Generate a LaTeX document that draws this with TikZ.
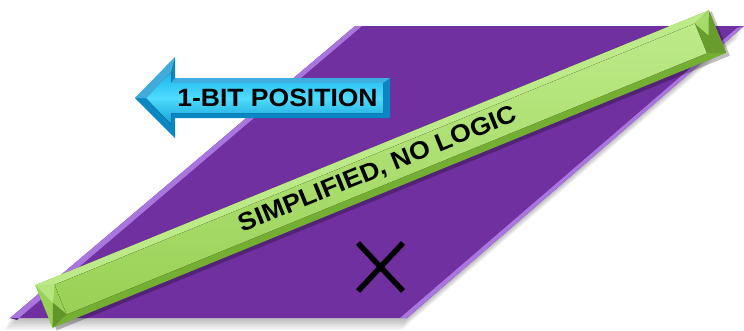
\documentclass[tikz,border=0pt]{standalone}
\usepackage{fontspec}
\setmainfont{Liberation Sans}
\definecolor{purp}{HTML}{7030A0}
\definecolor{purpl}{HTML}{A876DE}
\definecolor{grn}{HTML}{98D155}
\definecolor{grnl}{HTML}{BDEA88}
\definecolor{grnd}{HTML}{74AE33}
\definecolor{blu}{HTML}{1AB4EE}
\definecolor{blul}{HTML}{4EDCFF}
\definecolor{blud}{HTML}{0A86C2}
\tikzset{
  lbl/.style={font=\bfseries\fontsize{25}{25}\selectfont, text=black, inner sep=0pt},
  cross/.style={line width=5.5pt, black}
}
\begin{document}
\begin{tikzpicture}[x=1pt,y=-1pt]
\useasboundingbox (0,0) rectangle (744,330);
% shadow of the parallelogram
\foreach \i in {1,...,8}{
  \fill[black, opacity=0.035] ([shift={(-\i*0.7,\i*1.5)}]10,318) -- ([shift={(-\i*0.7,\i*1.5)}]407,318) -- ([shift={(-\i*0.7,\i*1.5)}]744,26) -- ([shift={(-\i*0.7,\i*1.5)}]355,26) -- cycle;
}
% parallelogram
\fill[purp] (10,318) -- (407,318) -- (744,26) -- (355,26) -- cycle;
% bevel strips
\fill[purpl] (10,318) -- (355,26) -- (362,26) -- (19,318) -- cycle;
\fill[purpl] (407,318) -- (744,26) -- (737,28) -- (400,318) -- cycle;
\fill[purp!85!black] (10,318) -- (19,318) -- (17,320) -- cycle;
% blue arrow
\fill[blud] (135,98) -- (175,57) -- (175,78) -- (390,78) -- (390,118) -- (175,118) -- (175,138) -- cycle;
\fill[top color=blu, bottom color=blu!90!black, middle color=blul] (146,98) -- (171,72) -- (171,83) -- (383,83) -- (383,113) -- (171,113) -- (171,124) -- cycle;
\fill[blu!70!white, opacity=0.6] (175,78) -- (390,78) -- (383,83) -- (171,83) -- cycle;
\fill[blu!60!white, opacity=0.5] (135,98) -- (175,57) -- (171,72) -- (146,98) -- cycle;
\node[lbl, xscale=1.06] (pos) at (277.5,98) {1-BIT POSITION};
% cross
\draw[cross] (358,243) -- (403,291);
\draw[cross] (403,243) -- (358,291);
% green bar
\begin{scope}[shift={(380.75,169)}, rotate=22.2]
  \fill[black, opacity=0.25] (-361,-21) rectangle (366,27);
  \fill[grnd] (-363.75,-23) rectangle (363.75,23);
  \fill[grnl] (-363.75,-23) -- (363.75,-23) -- (345.75,-16) -- (-345.75,-16) -- cycle;
  \fill[grn] (-363.75,-23) -- (-345.75,-16) -- (-345.75,16) -- (-363.75,23) -- cycle;
  \fill[grnl!80!grn] (-363.75,-23) -- (-345.75,-16) -- (-354,0) -- cycle;
  \fill[grnd!85!black] (-363.75,23) -- (-345.75,16) -- (-354,0) -- cycle;
  \fill[grnd!90!black] (363.75,-23) -- (345.75,-16) -- (345.75,16) -- (363.75,23) -- cycle;
  \fill[grn!60!grnl] (363.75,-23) -- (345.75,-16) -- (354,0) -- cycle;
  \fill[top color=grnl, middle color=grn!70!grnl, bottom color=grn] (-345.75,-16) rectangle (345.75,16);
\end{scope}
\node[lbl, rotate=22.2, xscale=1.07] (simp) at (378,170) {SIMPLIFIED, NO LOGIC};
\end{tikzpicture}
\end{document}
